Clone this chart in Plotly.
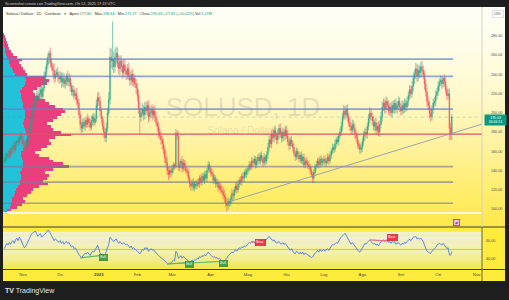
import plotly.graph_objects as go
import pandas as pd

# ======================= DATA =======================
start_date = "2024-10-17"
first_open = 149

close_2024_10 = [151, 154, 157, 155, 160, 158, 163, 166, 162, 168, 171, 169, 174, 176, 172]
close_2024_11 = [168, 164, 166, 170, 175, 181, 190, 198, 204, 210, 214, 218, 214, 220, 224, 217, 226, 236, 242, 250,
                 258, 262, 252, 248, 244, 236, 240, 242, 238, 235]
close_2024_12 = [238, 232, 236, 230, 234, 238, 232, 236, 228, 222, 224, 218, 220, 214, 210, 198, 188, 184, 190, 186,
                 192, 188, 194, 190, 185, 192, 196, 190, 194, 208, 216]
close_2025_01 = [212, 202, 194, 186, 180, 174, 184, 200, 214, 258, 254, 256, 248, 258, 262, 252, 246, 254, 248, 242,
                 250, 244, 240, 246, 238, 234, 240, 232, 236, 230, 226]
close_2025_02 = [218, 204, 196, 200, 204, 198, 206, 202, 208, 196, 200, 204, 198, 202, 196, 190, 186, 180, 176, 172,
                 168, 162, 154, 148, 140, 136, 140, 138]
close_2025_03 = [142, 146, 144, 179, 176, 143, 146, 150, 142, 148, 144, 140, 138, 132, 126, 124, 128, 122, 126, 124,
                 128, 126, 132, 128, 134, 130, 136, 132, 140, 146, 142]
close_2025_04 = [138, 136, 130, 132, 126, 128, 122, 124, 120, 118, 114, 112, 106, 104, 108, 106, 110, 116, 114, 120,
                 124, 120, 126, 130, 128, 134, 132, 138, 136, 140]
close_2025_05 = [142, 146, 144, 150, 148, 152, 146, 150, 154, 150, 156, 152, 148, 154, 150, 156, 164, 172, 168, 178,
                 174, 182, 176, 172, 178, 184, 178, 174, 180, 176, 182]
close_2025_06 = [176, 170, 166, 172, 168, 164, 158, 154, 160, 156, 152, 156, 150, 154, 146, 150, 148, 146, 144, 140,
                 136, 132, 138, 144, 146, 150, 146, 152, 148, 150]
close_2025_07 = [152, 148, 150, 154, 150, 156, 160, 164, 162, 168, 172, 170, 176, 180, 186, 196, 202, 198, 204, 196,
                 190, 186, 182, 188, 184, 178, 174, 168, 166, 162, 164]
close_2025_08 = [170, 176, 180, 178, 186, 194, 200, 196, 192, 186, 190, 182, 186, 180, 188, 196, 206, 210, 204, 212,
                 208, 202, 206, 200, 208, 204, 210, 204, 208, 212, 206]
close_2025_09 = [202, 208, 204, 210, 206, 212, 218, 224, 220, 228, 236, 240, 246, 238, 244, 242, 248, 244, 240, 230,
                 222, 212, 208, 200, 196, 204, 210, 212, 218, 222]
close_2025_10 = [228, 232, 234, 230, 236, 232, 224, 218, 220, 184, 177.82, 195.63]

wick_up_2024_10 = [3, 4, 2, 5, 3, 4, 2, 5, 4, 3, 2, 4, 3, 5, 3]
wick_up_2024_11 = [4, 3, 5, 2, 4, 3, 6, 5, 4, 6, 3, 5, 4, 6, 3, 5, 4, 7, 6, 5, 4, 3, 6, 5, 4, 7, 5, 4, 6, 5]
wick_up_2024_12 = [5, 4, 6, 5, 4, 3, 6, 5, 4, 3, 5, 4, 3, 6, 4, 5, 4, 3, 5, 4, 3, 4, 5, 3, 4, 5, 3, 4, 5, 6, 5]
wick_up_2025_01 = [6, 5, 4, 3, 5, 4, 6, 5, 8, 10, 9, 39, 8, 9, 7, 6, 8, 5, 6, 7, 5, 6, 4, 5, 6, 5, 4, 6, 5, 4, 5]
wick_up_2025_02 = [5, 6, 7, 5, 6, 4, 5, 6, 4, 5, 6, 4, 5, 4, 6, 5, 4, 5, 4, 5, 4, 5, 4, 6, 5, 4, 5, 4]
wick_up_2025_03 = [4, 3, 2, 4, 3, 5, 4, 3, 5, 4, 3, 4, 3, 4, 3, 4, 3, 4, 3, 4, 3, 4, 3, 4, 3, 4, 3, 4, 3, 4, 3]
wick_up_2025_04 = [3, 4, 3, 4, 3, 4, 3, 4, 3, 4, 5, 6, 4, 5, 4, 3, 4, 5, 4, 3, 4, 5, 4, 3, 4, 3, 4, 3, 4, 3]
wick_up_2025_05 = [3, 4, 3, 4, 3, 4, 3, 4, 3, 4, 3, 4, 3, 4, 3, 4, 5, 4, 5, 4, 5, 4, 5, 4, 5, 4, 5, 4, 5, 4, 5]
wick_up_2025_06 = [4, 5, 4, 3, 4, 3, 4, 3, 4, 3, 4, 3, 4, 3, 4, 3, 4, 3, 4, 3, 4, 3, 4, 3, 4, 3, 4, 3, 4, 3]
wick_up_2025_07 = [3, 4, 3, 4, 3, 4, 3, 4, 3, 4, 3, 4, 3, 4, 5, 4, 6, 5, 4, 5, 4, 5, 4, 5, 4, 5, 4, 5, 4, 3, 4]
wick_up_2025_08 = [4, 5, 4, 5, 4, 5, 6, 5, 4, 5, 4, 5, 4, 5, 4, 5, 6, 5, 4, 5, 4, 5, 4, 5, 4, 5, 4, 5, 4, 5, 4]
wick_up_2025_09 = [4, 5, 4, 5, 4, 5, 4, 5, 4, 5, 6, 5, 6, 5, 6, 5, 5, 6, 5, 4, 5, 4, 5, 4, 5, 4, 5, 4, 5, 4]
wick_up_2025_10 = [5, 4, 5, 3, 2, 4, 5, 4, 5, 6, 6, 3.21]

wick_dn_2024_10 = [2, 3, 4, 2, 3, 5, 2, 3, 4, 2, 3, 4, 2, 3, 4]
wick_dn_2024_11 = [3, 5, 2, 4, 3, 4, 2, 5, 6, 3, 4, 5, 3, 4, 6, 5, 3, 4, 6, 5, 4, 7, 5, 4, 6, 5, 4, 3, 6, 5]
wick_dn_2024_12 = [4, 6, 5, 4, 5, 6, 4, 5, 6, 4, 5, 4, 5, 6, 5, 4, 6, 5, 4, 3, 5, 4, 3, 5, 4, 3, 5, 4, 3, 4, 5]
wick_dn_2025_01 = [5, 6, 5, 4, 6, 4, 5, 4, 3, 5, 8, 9, 7, 6, 8, 5, 6, 7, 5, 6, 5, 4, 6, 5, 4, 6, 5, 4, 5, 4, 6]
wick_dn_2025_02 = [6, 5, 19, 5, 4, 6, 5, 4, 5, 6, 4, 5, 6, 4, 5, 4, 5, 6, 4, 5, 6, 5, 6, 4, 5, 6, 4, 5]
wick_dn_2025_03 = [3, 4, 3, 2, 4, 3, 4, 3, 4, 3, 4, 3, 4, 3, 4, 5, 4, 3, 4, 3, 4, 3, 4, 3, 4, 3, 4, 3, 4, 3, 4]
wick_dn_2025_04 = [4, 3, 4, 3, 4, 3, 4, 3, 4, 3, 4, 5, 4, 8, 5, 4, 3, 4, 5, 4, 3, 4, 3, 4, 3, 4, 3, 4, 3, 4]
wick_dn_2025_05 = [4, 3, 4, 3, 4, 3, 4, 3, 4, 3, 4, 3, 4, 3, 4, 3, 4, 5, 4, 5, 4, 5, 4, 5, 4, 5, 4, 5, 4, 5, 4]
wick_dn_2025_06 = [3, 4, 5, 4, 3, 4, 3, 4, 3, 4, 3, 4, 3, 4, 3, 4, 3, 4, 3, 4, 3, 5, 5, 3, 4, 3, 4, 3, 4, 3]
wick_dn_2025_07 = [4, 3, 4, 3, 4, 3, 4, 3, 4, 3, 4, 3, 4, 3, 4, 5, 4, 5, 4, 5, 4, 5, 4, 5, 4, 5, 4, 5, 4, 5, 4]
wick_dn_2025_08 = [5, 4, 5, 4, 5, 4, 5, 4, 5, 4, 5, 4, 5, 4, 5, 4, 5, 4, 5, 4, 5, 4, 5, 4, 5, 4, 5, 4, 5, 4, 5]
wick_dn_2025_09 = [5, 4, 5, 4, 5, 4, 5, 4, 5, 4, 5, 6, 5, 6, 5, 6, 5, 6, 5, 6, 5, 6, 5, 6, 5, 4, 5, 4, 5, 4]
wick_dn_2025_10 = [4, 5, 4, 5, 4, 5, 4, 5, 4, 12, 6, 6.05]

rsi_2024_10 = [51, 54, 57, 55, 58, 56, 59, 60, 57, 61, 63, 60, 64, 62, 58]
rsi_2024_11 = [55, 52, 53, 56, 60, 63, 66, 68, 69, 70, 71, 68, 65, 67, 68, 64, 66, 67, 68, 70, 72, 71, 68, 66, 63,
               60, 62, 61, 59, 58]
rsi_2024_12 = [60, 57, 59, 56, 58, 59, 57, 58, 55, 53, 54, 51, 52, 50, 47, 44, 43, 40.5, 43, 44, 46, 45, 47, 45, 43,
               46, 48, 47, 49, 52, 55]
rsi_2025_01 = [50, 46, 44, 45, 43.5, 44, 48, 52, 56, 64, 62, 61, 59, 61, 62, 59, 57, 59, 57, 56, 58, 56, 55, 56, 54,
               52, 54, 51, 52, 50, 49]
rsi_2025_02 = [48, 46, 45, 47, 50, 49, 52, 51, 52, 48, 50, 51, 49, 50, 48, 46, 45, 43, 42, 41, 40, 38, 37, 36, 34,
               33.5, 35, 34]
rsi_2025_03 = [36, 38, 37, 48, 46, 40, 41, 43, 40, 42, 41, 39, 38, 37, 36, 35.5, 38, 36, 38, 38, 40, 39, 42, 41, 43,
               42, 44, 43, 45, 47, 45]
rsi_2025_04 = [44, 43, 41, 42, 40, 41, 39, 40, 38, 37, 36.5, 37, 38, 40, 43, 44, 45, 47, 46, 48, 50, 48, 50, 52, 51,
               53, 52, 54, 53, 55]
rsi_2025_05 = [56, 58, 57, 59, 58, 59, 56, 57, 59, 57, 59, 57, 55, 58, 60, 62, 64, 65, 63, 62, 60, 61, 58, 57, 58,
               59, 57, 56, 58, 56, 57]
rsi_2025_06 = [55, 52, 50, 49, 51, 48, 46, 45, 48, 47, 45, 47, 45, 47, 44, 46, 45, 44, 43, 42, 41, 41.5, 44, 46, 47,
               49, 47, 50, 48, 49]
rsi_2025_07 = [50, 48, 49, 51, 49, 52, 54, 56, 55, 57, 58, 57, 60, 62, 64, 65, 67, 68.4, 66, 63, 60, 58, 56, 58, 56,
               54, 52, 49, 48, 47, 49]
rsi_2025_08 = [51, 54, 57, 56, 58, 60, 61, 59, 58, 56, 57, 55, 56, 54, 57, 58, 60, 61, 59, 61, 60, 58, 59, 57, 59,
               58, 59, 56, 57, 58, 56]
rsi_2025_09 = [55, 57, 56, 58, 57, 59, 61, 62, 60, 62, 64, 64.5, 65, 62, 63, 62, 63, 61, 59, 55, 51, 48, 47, 46,
               45.5, 48, 49, 50, 52, 55]
rsi_2025_10 = [56, 57, 56, 55, 57, 55, 53, 51, 52, 44, 43.5, 47.6]

# visible-range volume profile (price bins, up volume / down volume)
profile_prices = [96, 99, 102, 105, 108, 111, 114, 117, 120, 123, 126, 129, 132, 135, 138, 141, 144, 147, 150, 153,
                  156, 159, 162, 165, 168, 171, 174, 177, 180, 183, 186, 189, 192, 195, 198, 201, 204, 207, 210, 213,
                  216, 219, 222, 225, 228, 231, 234, 237, 240, 243, 246, 249, 252, 255, 258, 261, 264, 267, 270, 273,
                  276, 279, 282]
profile_up = [2, 4, 7, 8, 9, 9, 11, 12, 13, 15, 17, 17, 18, 18, 17, 19, 20, 20, 20, 19,
              18, 18, 20, 22, 23, 23, 24, 24, 23, 22, 21, 20, 21, 22, 22, 22, 21, 20, 20, 19,
              18, 18, 17, 19, 21, 22, 23, 22, 12, 10, 9, 7, 6, 6, 4, 3, 2, 1.5, 1, 1, 0.5, 0.5, 0.3]
profile_down = [2, 4, 7, 11, 13, 11, 13, 16, 17, 21, 28, 23, 26, 28, 25, 31, 46, 40, 30, 27,
                18, 14, 18, 22, 25, 23, 28, 44, 35, 28, 27, 24, 29, 32, 36, 40, 39, 32, 26, 23,
                18, 14, 13, 15, 17, 22, 23, 20, 12, 12, 11, 11, 10, 13, 10, 7, 6, 4.5, 4, 3, 2.5, 1.5, 0.7]

# drawn levels
levels_blue = [256, 238, 204]
levels_gray = [144, 128, 106]
level_red = 178
level_white = 96
level_start = "2024-10-14"
level_end = "2025-10-13"
last_price = 195.63

# trend line
trend_dates = ["2025-04-16", "2025-11-07"]
trend_prices = [107.6, 189.0]

# RSI divergences
bull_lines = [(["2024-12-17", "2025-01-05"], [40.5, 43.5]),
              (["2025-02-25", "2025-03-15"], [33.5, 35.5]),
              (["2025-02-25", "2025-04-11"], [33.5, 36.5])]
bull_labels = [("2025-01-05", 40.6), ("2025-03-15", 32.8), ("2025-04-11", 33.6)]
bear_lines = [(["2025-05-04", "2025-05-10"], [59, 57]),
              (["2025-08-07", "2025-08-23"], [61, 59.5])]
bear_labels = [("2025-05-11", 58.3), ("2025-08-25", 63.6)]

# axes
x_range = ["2024-10-15 21:50", "2025-11-05 06:30"]
month_ticks = ["2024-11-01", "2024-12-01", "2025-01-01", "2025-02-01", "2025-03-01", "2025-04-01", "2025-05-01",
               "2025-06-01", "2025-07-01", "2025-08-01", "2025-09-01", "2025-10-01", "2025-11-01"]
month_labels = ["Nov", "Dic", "<b>2025</b>", "Feb", "Mar", "Apr", "Mag", "Giu", "Lug", "Ago", "Set", "Ott", "Nov"]
price_ticks = [100, 120, 140, 160, 180, 200, 220, 240, 260, 280]
rsi_ticks = [40, 60]

# ======================= BUILD =======================
closes = (close_2024_10 + close_2024_11 + close_2024_12 + close_2025_01 + close_2025_02 + close_2025_03 +
          close_2025_04 + close_2025_05 + close_2025_06 + close_2025_07 + close_2025_08 + close_2025_09 + close_2025_10)
wick_up = (wick_up_2024_10 + wick_up_2024_11 + wick_up_2024_12 + wick_up_2025_01 + wick_up_2025_02 +
           wick_up_2025_03 + wick_up_2025_04 + wick_up_2025_05 + wick_up_2025_06 + wick_up_2025_07 +
           wick_up_2025_08 + wick_up_2025_09 + wick_up_2025_10)
wick_dn = (wick_dn_2024_10 + wick_dn_2024_11 + wick_dn_2024_12 + wick_dn_2025_01 + wick_dn_2025_02 +
           wick_dn_2025_03 + wick_dn_2025_04 + wick_dn_2025_05 + wick_dn_2025_06 + wick_dn_2025_07 +
           wick_dn_2025_08 + wick_dn_2025_09 + wick_dn_2025_10)
rsi = (rsi_2024_10 + rsi_2024_11 + rsi_2024_12 + rsi_2025_01 + rsi_2025_02 + rsi_2025_03 + rsi_2025_04 +
       rsi_2025_05 + rsi_2025_06 + rsi_2025_07 + rsi_2025_08 + rsi_2025_09 + rsi_2025_10)

dates = pd.date_range(start_date, periods=len(closes), freq="D")
opens = [first_open] + closes[:-1]
highs = [max(o, c) + u for o, c, u in zip(opens, closes, wick_up)]
lows = [min(o, c) - d for o, c, d in zip(opens, closes, wick_dn)]

W, H = 509, 300


def px(x):
    return x / W


def py(y):
    return 1 - y / H


def hex2rgb(h):
    return tuple(int(h[i:i + 2], 16) for i in (1, 3, 5))


def grad(stops, v):
    for (a, ca), (b, cb) in zip(stops[:-1], stops[1:]):
        if a <= v <= b:
            t = (v - a) / (b - a) if b != a else 0
            r1, g1, b1 = hex2rgb(ca)
            r2, g2, b2 = hex2rgb(cb)
            return "rgb(%d,%d,%d)" % (r1 + (r2 - r1) * t, g1 + (g2 - g1) * t, b1 + (b2 - b1) * t)
    return stops[-1][1]


GREEN = "#089981"
C_UP = "#1FA688"
C_DN = "#F04A5A"
L, R = px(3), px(482)

fig = go.Figure()

# volume profile (base subplot)
fig.add_trace(go.Bar(x=profile_up, y=profile_prices, orientation="h", width=3,
                     marker=dict(color="#22C3D8", line=dict(width=0)), xaxis="x", yaxis="y", hoverinfo="skip"))
fig.add_trace(go.Bar(x=profile_down, y=profile_prices, orientation="h", width=3,
                     marker=dict(color="#EA3F7C", line=dict(width=0)), xaxis="x", yaxis="y", hoverinfo="skip"))

# watermark
fig.add_trace(go.Scatter(x=[240], y=[203], mode="text", text=["SOLUSD, 1D"], xaxis="x", yaxis="y",
                         textfont=dict(size=26, color="rgba(90,90,90,0.17)", family="Liberation Sans, Arial"),
                         hoverinfo="skip"))
fig.add_trace(go.Scatter(x=[240], y=[181], mode="text", text=["Solana / Dollaro"], xaxis="x", yaxis="y",
                         textfont=dict(size=10, color="rgba(90,90,90,0.17)", family="Liberation Sans, Arial"),
                         hoverinfo="skip"))

# candles
fig.add_trace(go.Candlestick(x=dates, open=opens, high=highs, low=lows, close=closes, xaxis="x2", yaxis="y",
                             increasing=dict(line=dict(color=C_UP, width=0.55), fillcolor=C_UP),
                             decreasing=dict(line=dict(color=C_DN, width=0.55), fillcolor=C_DN),
                             whiskerwidth=0, hoverinfo="skip"))

# levels
for p in levels_blue:
    fig.add_trace(go.Scatter(x=[level_start, level_end], y=[p, p], mode="lines", xaxis="x2", yaxis="y",
                             line=dict(color="rgba(98,125,210,0.7)", width=1.7), hoverinfo="skip"))
for p in levels_gray:
    fig.add_trace(go.Scatter(x=[level_start, level_end], y=[p, p], mode="lines", xaxis="x2", yaxis="y",
                             line=dict(color="rgba(115,125,155,0.65)", width=1.7), hoverinfo="skip"))
fig.add_trace(go.Scatter(x=[level_start, x_range[1]], y=[level_white, level_white], mode="lines", xaxis="x2",
                         yaxis="y", line=dict(color="rgba(255,255,255,0.85)", width=1.6), hoverinfo="skip"))
fig.add_trace(go.Scatter(x=[level_start, x_range[1]], y=[level_red, level_red], mode="lines", xaxis="x2",
                         yaxis="y", line=dict(color="#E0506A", width=1.2), hoverinfo="skip"))
fig.add_trace(go.Scatter(x=[level_start, x_range[1]], y=[last_price, last_price], mode="lines", xaxis="x2",
                         yaxis="y", line=dict(color="rgba(8,153,129,0.30)", width=0.8, dash="dot"),
                         hoverinfo="skip"))
fig.add_trace(go.Scatter(x=trend_dates, y=trend_prices, mode="lines", xaxis="x2", yaxis="y",
                         line=dict(color="#8E9AB6", width=0.9), hoverinfo="skip"))

# RSI
fig.add_trace(go.Scatter(x=dates, y=rsi, mode="lines", xaxis="x3", yaxis="y3",
                         line=dict(color="#4C7BE6", width=0.9), hoverinfo="skip"))
for xs, ys in bull_lines:
    fig.add_trace(go.Scatter(x=xs, y=ys, mode="lines", xaxis="x3", yaxis="y3",
                             line=dict(color="#5DBB63", width=1.2), hoverinfo="skip"))
for xs, ys in bear_lines:
    fig.add_trace(go.Scatter(x=xs, y=ys, mode="lines", xaxis="x3", yaxis="y3",
                             line=dict(color="#F26D7D", width=1.2), hoverinfo="skip"))

# ---------------- shapes ----------------
shapes = []
main_stops = [(7, "#FFFFF7"), (50, "#FFFDE8"), (100, "#FFF8C8"), (150, "#FFF29A"), (190, "#FFEE6E"),
              (227, "#FFE94A")]
y = 7
while y < 227:
    shapes.append(dict(type="rect", xref="paper", yref="paper", x0=px(3), x1=px(505), y0=py(min(y + 2.6, 227)),
                       y1=py(y), fillcolor=grad(main_stops, y + 1), line=dict(width=0), layer="below"))
    y += 2
shapes.append(dict(type="rect", xref="paper", yref="paper", x0=px(3), x1=px(505), y0=py(281), y1=py(227),
                   fillcolor="#FFEB3B", line=dict(width=0), layer="below"))
band_stops = [(30, "#EFE760"), (45, "#F3F0B4"), (70, "#ECF1EF")]
v = 30
while v < 70:
    shapes.append(dict(type="rect", xref="paper", yref="y3", x0=L, x1=R, y0=v, y1=v + 1.2,
                       fillcolor=grad(band_stops, v + 0.5), line=dict(width=0), layer="below"))
    v += 1
shapes.append(dict(type="line", xref="paper", yref="y3", x0=L, x1=R, y0=50, y1=50,
                   line=dict(color="rgba(130,130,130,0.55)", width=0.8), layer="below"))
shapes.append(dict(type="line", xref="paper", yref="paper", x0=px(3), x1=px(505), y0=py(227), y1=py(227),
                   line=dict(color="#3A392E", width=1)))
shapes.append(dict(type="line", xref="paper", yref="paper", x0=px(3), x1=px(505), y0=py(269.5), y1=py(269.5),
                   line=dict(color="#3A392E", width=1)))
shapes.append(dict(type="line", xref="paper", yref="paper", x0=px(482), x1=px(482), y0=py(227), y1=py(7),
                   line=dict(color="#D3D1C2", width=1)))
shapes.append(dict(type="line", xref="paper", yref="paper", x0=px(482), x1=px(482), y0=py(281), y1=py(227),
                   line=dict(color="#6A6640", width=1)))

# ---------------- annotations ----------------
ann = []
ann.append(dict(xref="paper", yref="paper", x=px(3), y=py(3.6), xanchor="left", yanchor="middle", showarrow=False,
                text="Screenshot creato con TradingView.com, Ott 12, 2025 17:13 UTC",
                font=dict(size=3.8, color="#CFCFCF")))
g = '<span style="color:#089981">%s</span>'
hdr = ("Solana / Dollaro · 1D · Coinbase · " + g % "●" + " · Apert." + g % "177,80" + " · Max." + g % "198,84" +
       " · Min." + g % "171,77" + " · Chius." + g % "195,63" + " " + g % "+17,81 (+10,02%)" + " Vol " + g % "1,27M")
ann.append(dict(xref="paper", yref="paper", x=px(4), y=py(14), xanchor="left", yanchor="middle", showarrow=False,
                text=hdr, font=dict(size=3.8, color="#333333")))
ann.append(dict(xref="paper", yref="paper", x=px(497.5), y=py(14), xanchor="center", yanchor="middle",
                showarrow=False, text="USD", font=dict(size=3.4, color="#666666"), bgcolor="#FFFFFF",
                bordercolor="#D0D0D0", borderwidth=0.6, borderpad=1.3))
ann.append(dict(xref="paper", yref="y", x=px(495), y=last_price, xanchor="center", yanchor="middle",
                yshift=-2.5, showarrow=False, text="195,63<br>06:46:51", font=dict(size=3.5, color="#FFFFFF"),
                bgcolor=GREEN, borderpad=0.6, width=20))
ann.append(dict(xref="paper", yref="paper", x=px(456), y=py(222.5), xanchor="center", yanchor="middle",
                showarrow=False, text="▰", font=dict(size=3.5, color="#3F51B5"), bgcolor="#F8BBD0",
                bordercolor="#E91E63", borderwidth=0.8, borderpad=0.8))
for xd, yv in bull_labels:
    ann.append(dict(xref="x3", yref="y3", x=xd, y=yv, xanchor="center", yanchor="middle", showarrow=False,
                    text="Bull", font=dict(size=3.4, color="#FFFFFF"), bgcolor="#43A047",
                    bordercolor="#2E7D32", borderwidth=0.5, borderpad=0.8))
for xd, yv in bear_labels:
    ann.append(dict(xref="x3", yref="y3", x=xd, y=yv, xanchor="center", yanchor="middle", showarrow=False,
                    text="Bear", font=dict(size=3.4, color="#FFFFFF"), bgcolor="#F23645",
                    bordercolor="#C62828", borderwidth=0.5, borderpad=0.8))
ann.append(dict(xref="paper", yref="paper", x=px(3), y=py(290.5), xanchor="left", yanchor="middle",
                showarrow=False, text="<b>TV</b> TradingView",
                font=dict(size=7, color="#E6E6E6")))

axis_font = dict(size=3.7, color="#4A4A4A")
fig.update_layout(
    width=W, height=H, margin=dict(l=0, r=0, t=0, b=0),
    paper_bgcolor="#1E1E1E", plot_bgcolor="rgba(0,0,0,0)",
    separators=",.", showlegend=False, barmode="stack", bargap=0,
    font=dict(family="Liberation Sans, Arial, sans-serif", size=4, color="#3D3D3D"),
    xaxis=dict(domain=[L, R], anchor="y", range=[0, 479], visible=False, fixedrange=True),
    xaxis2=dict(overlaying="x", anchor="y", type="date", range=x_range, visible=False,
                rangeslider=dict(visible=False)),
    xaxis3=dict(domain=[L, R], anchor="y3", type="date", range=x_range, tickvals=month_ticks,
                ticktext=month_labels, showgrid=False, zeroline=False, showline=False, ticks="",
                tickfont=dict(size=4.3, color="#4A4A4A"), ticklabelstandoff=2),
    yaxis=dict(domain=[py(227), py(20)], anchor="x", range=[81.3, 296.6], side="right", tickvals=price_ticks,
               tickformat=".2f", showgrid=False, zeroline=False, showline=False, ticks="",
               tickfont=axis_font, ticklabelstandoff=8),
    yaxis3=dict(domain=[py(269), py(227)], anchor="x3", range=[27.8, 75.6], side="right", tickvals=rsi_ticks,
                tickformat=".2f", showgrid=False, zeroline=False, showline=False, ticks="",
                tickfont=axis_font, ticklabelstandoff=3),
    shapes=shapes, annotations=ann,
)

fig.write_html("out.html")
